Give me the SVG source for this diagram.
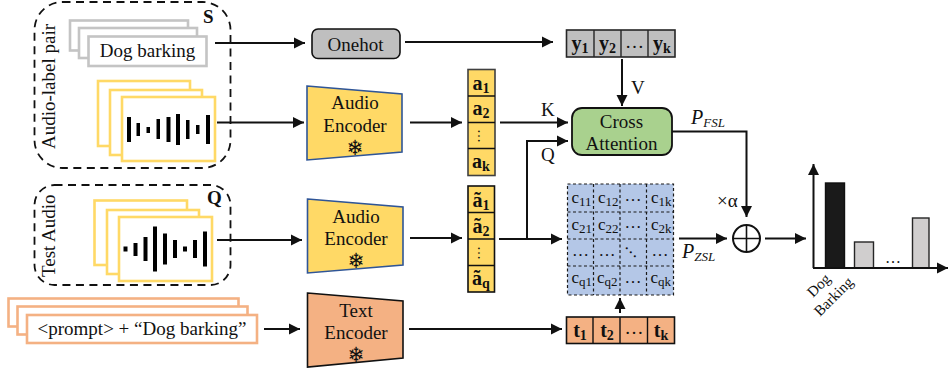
<svg xmlns="http://www.w3.org/2000/svg" width="948" height="374" viewBox="0 0 948 374">
<style>
text{font-family:"Liberation Serif","Times New Roman",serif;fill:#111;font-size:19px}
.m{text-anchor:middle}
.b{font-weight:bold;font-size:20px}
.i{font-style:italic}
.sub{font-size:14px}
.dash{fill:#fff;stroke:#111;stroke-width:1.8;stroke-dasharray:8 5.5}
.gray{fill:#fff;stroke:#c4c4c4;stroke-width:2.600}
.yel{fill:#fff;stroke:#ffd966;stroke-width:2.600}
.org{fill:#fff;stroke:#f4b183;stroke-width:2.600}
.ar{fill:none;stroke:#111;stroke-width:2;marker-end:url(#arrow)}
.bar{stroke:none;fill:#000}
.grid{fill:none;stroke:#1a1a1a;stroke-width:1.2;stroke-dasharray:3 2.5}
.c{font-size:17px}
.cs{font-size:13px}
.snow{font-family:"DejaVu Sans",sans-serif;font-size:21px;text-anchor:middle}
</style>
<defs>
<marker id="arrow" markerUnits="userSpaceOnUse" markerWidth="12" markerHeight="12" refX="11" refY="6" orient="auto">
<path d="M0,0.5 L11,6 L0,11.5 Z" fill="#111"/>
</marker>
</defs>

<g id="support-set">
<rect class="dash" x="34.5" y="2" width="196" height="166" rx="28"/>
<text class="b" x="203" y="23" style="font-size:19px">S</text>
<text transform="translate(55,149) rotate(-90)">Audio-label pair</text>
</g>
<g id="label-cards">
<rect class="gray" x="70" y="20.5" width="118" height="30"/>
<rect class="gray" x="79" y="28" width="118" height="30"/>
<rect class="gray" x="88.5" y="36.5" width="118" height="29.500"/>
<text class="m" x="147.500" y="57">Dog barking</text>
</g>
<g id="support-audio">
<rect class="yel" x="98" y="81" width="92" height="65"/>
<rect class="yel" x="110" y="90" width="92" height="65"/>
<rect class="yel" x="122" y="97" width="93" height="64"/>
<rect class="bar" x="127" y="117" width="4" height="25"/>
<rect class="bar" x="136.500" y="123" width="3.500" height="13"/>
<rect class="bar" x="146.500" y="127" width="3.500" height="6"/>
<rect class="bar" x="156.500" y="119" width="3.500" height="20"/>
<rect class="bar" x="166.500" y="117" width="4" height="25"/>
<rect class="bar" x="176" y="114" width="4" height="31"/>
<rect class="bar" x="186" y="120" width="3.500" height="19"/>
<rect class="bar" x="196" y="125" width="3.500" height="9"/>
<rect class="bar" x="206" y="115" width="4" height="29"/>
</g>

<g id="query-set">
<rect class="dash" x="34.500" y="185" width="196" height="100" rx="20"/>
<text class="b" x="207" y="204" style="font-size:19px">Q</text>
<text transform="translate(55,277) rotate(-90)">Test Audio</text>
</g>
<g id="query-audio">
<rect class="yel" x="94.500" y="200.500" width="92.500" height="64.500"/>
<rect class="yel" x="107" y="210" width="92" height="64"/>
<rect class="yel" x="119" y="217" width="93" height="64"/>
<rect class="bar" x="123.500" y="246.500" width="4" height="5"/>
<rect class="bar" x="133.500" y="243" width="4" height="13"/>
<rect class="bar" x="143.500" y="237" width="4" height="24"/>
<rect class="bar" x="153" y="226.500" width="4" height="45"/>
<rect class="bar" x="163" y="233.500" width="4" height="31"/>
<rect class="bar" x="173" y="240" width="4" height="18"/>
<rect class="bar" x="183" y="246.500" width="4" height="5"/>
<rect class="bar" x="193" y="240" width="4" height="18"/>
<rect class="bar" x="203" y="231.500" width="4" height="35"/>
</g>
<g id="prompt-cards">
<rect class="org" x="8.500" y="298.500" width="230" height="28"/>
<rect class="org" x="17.500" y="306.500" width="230" height="28"/>
<rect class="org" x="27" y="315" width="230" height="28"/>
<text class="m" x="142" y="335">&lt;prompt&gt; + “Dog barking”</text>
</g>

<g id="onehot">
<rect x="312" y="29" width="88" height="29.500" rx="6" fill="#bfbfbf" stroke="#111" stroke-width="1.600"/>
<text class="m" x="355.500" y="51">Onehot</text>
</g>
<g id="audio-encoder-1">
<polygon points="307,86 402,94 402,152 307,160" fill="#ffd966" stroke="#2f5597" stroke-width="1.600"/>
<text class="m" x="355" y="109">Audio</text>
<text class="m" x="355" y="132">Encoder</text>
<text class="snow" x="355" y="155">❄</text>
</g>
<g id="audio-encoder-2">
<polygon points="307.500,199 403,207 403,265 307.500,273" fill="#ffd966" stroke="#2f5597" stroke-width="1.600"/>
<text class="m" x="356" y="223">Audio</text>
<text class="m" x="356" y="245">Encoder</text>
<text class="snow" x="356" y="268">❄</text>
</g>
<g id="text-encoder">
<polygon points="307.500,293 403,301 403,358 307.500,367" fill="#f4b183" stroke="#111" stroke-width="1.600"/>
<text class="m" x="356" y="317">Text</text>
<text class="m" x="356" y="339">Encoder</text>
<text class="snow" x="356" y="362">❄</text>
</g>

<g id="a-stack">
<rect x="468" y="69.500" width="27" height="106" fill="#ffd966" stroke="#404040" stroke-width="1.600"/>
<path d="M468,96H495M468,122.500H495M468,148.500H495" stroke="#111" stroke-width="1.400" fill="none"/>
<text class="m b" x="481" y="90">a<tspan class="sub" dy="3">1</tspan></text>
<text class="m b" x="481" y="115">a<tspan class="sub" dy="3">2</tspan></text>
<text class="m" x="482" y="140" style="font-size:14px" transform="rotate(90 482 136)">…</text>
<text class="m b" x="481" y="168">a<tspan class="sub" dy="3">k</tspan></text>
</g>
<g id="a-tilde-stack">
<rect x="468" y="186" width="26.500" height="106" fill="#ffd966" stroke="#111" stroke-width="1.600"/>
<path d="M468,212.500H494.500M468,239H494.500M468,265.500H494.500" stroke="#111" stroke-width="1.400" fill="none"/>
<text class="m b" x="481" y="207">ã<tspan class="sub" dy="3">1</tspan></text>
<text class="m b" x="481" y="233">ã<tspan class="sub" dy="3">2</tspan></text>
<text class="m" x="482" y="257" style="font-size:14px" transform="rotate(90 482 253)">…</text>
<text class="m b" x="481" y="285">ã<tspan class="sub" dy="3">q</tspan></text>
</g>

<g id="y-row">
<rect x="566.500" y="30" width="108.500" height="27" fill="#bfbfbf" stroke="#262626" stroke-width="1.600"/>
<path d="M594,30V57M621,30V57M648,30V57" stroke="#262626" stroke-width="1.400" fill="none"/>
<text class="m b" x="580" y="50">y<tspan class="sub" dy="3">1</tspan></text>
<text class="m b" x="607.500" y="50">y<tspan class="sub" dy="3">2</tspan></text>
<text class="m" x="634.500" y="48">…</text>
<text class="m b" x="662" y="50">y<tspan class="sub" dy="3">k</tspan></text>
</g>
<g id="cross-attention">
<rect x="572" y="108" width="100" height="47" rx="10" fill="#a9d18e" stroke="#111" stroke-width="1.800"/>
<text class="m" x="621.500" y="128">Cross</text>
<text class="m" x="621.500" y="150">Attention</text>
</g>

<g id="similarity-matrix">
<rect x="567.500" y="184" width="106" height="111" fill="#b4c7e7"/>
<rect class="grid" x="567.500" y="184" width="106" height="111"/>
<path class="grid" d="M593.500,184V295M620,184V295M646.500,184V295M567.500,212H673.500M567.500,239H673.500M567.500,266H673.500"/>
<text class="c" x="571.500" y="203">c<tspan class="cs" dy="3">11</tspan></text>
<text class="c" x="598" y="203">c<tspan class="cs" dy="3">12</tspan></text>
<text class="c m" x="633" y="201">…</text>
<text class="c" x="651" y="203">c<tspan class="cs" dy="3">1k</tspan></text>
<text class="c" x="571.500" y="230">c<tspan class="cs" dy="3">21</tspan></text>
<text class="c" x="598" y="230">c<tspan class="cs" dy="3">22</tspan></text>
<text class="c m" x="633" y="228">…</text>
<text class="c" x="651" y="230">c<tspan class="cs" dy="3">2k</tspan></text>
<text class="c m" x="580.500" y="256">…</text>
<text class="c m" x="607" y="256">…</text>
<text class="c m" x="633" y="254" transform="rotate(45 633 250)">…</text>
<text class="c m" x="660" y="256">…</text>
<text class="c" x="571.500" y="283">c<tspan class="cs" dy="3">q1</tspan></text>
<text class="c" x="597" y="283">c<tspan class="cs" dy="3">q2</tspan></text>
<text class="c m" x="633" y="283">…</text>
<text class="c" x="650.500" y="283">c<tspan class="cs" dy="3">qk</tspan></text>
</g>
<g id="t-row">
<rect x="566.500" y="317" width="108" height="26.500" fill="#f4b183" stroke="#111" stroke-width="1.600"/>
<path d="M593,317V343.500M620,317V343.500M647.500,317V343.500" stroke="#111" stroke-width="1.400" fill="none"/>
<text class="m b" x="580" y="337">t<tspan class="sub" dy="3">1</tspan></text>
<text class="m b" x="607" y="337">t<tspan class="sub" dy="3">2</tspan></text>
<text class="m" x="634" y="334">…</text>
<text class="m b" x="661" y="337">t<tspan class="sub" dy="3">k</tspan></text>
</g>

<g id="sum">
<circle cx="746.500" cy="238.500" r="13.500" fill="#fff" stroke="#111" stroke-width="2"/>
<path d="M733,238.500H760M746.500,225V252" stroke="#111" stroke-width="1.600" fill="none"/>
</g>

<g id="chart">
<rect x="825.500" y="183" width="19" height="85" fill="#1a1a1a" stroke="#111" stroke-width="1.400"/>
<rect x="854.500" y="242" width="19" height="26" fill="#d0cece" stroke="#262626" stroke-width="1.400"/>
<rect x="912.500" y="218" width="16.500" height="50" fill="#d0cece" stroke="#262626" stroke-width="1.400"/>
<path class="ar" d="M813.500,268V164"/>
<path class="ar" d="M813,268H948"/>
<text class="m" x="893" y="263" style="font-size:16px">…</text>
<text transform="translate(813,298) rotate(-45)" style="font-size:15px">Dog</text>
<text transform="translate(820,317) rotate(-45)" style="font-size:15px">Barking</text>
</g>

<g id="connectors">
<path class="ar" d="M215,43H305"/>
<path class="ar" d="M217,122.500H304"/>
<path class="ar" d="M217,240H302"/>
<path class="ar" d="M264,329H300"/>
<path class="ar" d="M405,42H553"/>
<path class="ar" d="M410,122.500H462"/>
<path class="ar" d="M410,238H462"/>
<path class="ar" d="M409,329H562"/>
<path class="ar" d="M622,59V106"/>
<path class="ar" d="M500,122.500H568"/>
<path class="ar" d="M527,239V141H568"/>
<path class="ar" d="M499,239H562"/>
<path class="ar" d="M620,313V298"/>
<path class="ar" d="M672,131.500H746.500V217"/>
<path class="ar" d="M679,238.500H727"/>
<path class="ar" d="M765,238.500H806"/>
</g>

<g id="connector-labels">
<text x="541" y="116">K</text>
<text x="541" y="161">Q</text>
<text x="631" y="94">V</text>
<text class="i" x="691" y="124" style="font-size:20px">P<tspan dy="3" style="font-size:13px">FSL</tspan></text>
<text class="i" x="682" y="258" style="font-size:20px">P<tspan dy="3" style="font-size:13px">ZSL</tspan></text>
<text x="717" y="207" style="font-size:19px">×α</text>
</g>
</svg>
